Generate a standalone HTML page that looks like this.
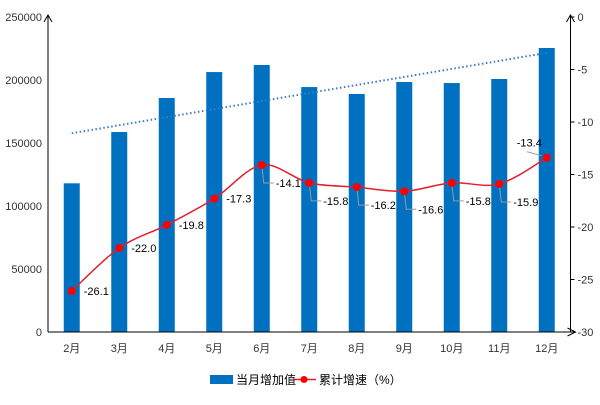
<!DOCTYPE html>
<html><head><meta charset="utf-8"><style>
body{margin:0;background:#fff;}
svg text{font-family:"Liberation Sans","Noto Sans CJK SC",sans-serif;}
</style></head><body>
<svg id="c" width="600" height="400" xmlns="http://www.w3.org/2000/svg"></svg>
<script>
const categories=["2月","3月","4月","5月","6月","7月","8月","9月","10月","11月","12月"];
const monthlyValues=[118000,158700,185700,206300,211900,194400,188900,198400,197600,200800,225400];
const growthValues=[-26.1,-22.0,-19.8,-17.3,-14.1,-15.8,-16.2,-16.6,-15.8,-15.9,-13.4];
const leftTicks=[0,50000,100000,150000,200000,250000];
const rightTicks=[0,-5,-10,-15,-20,-25,-30];
const NS="http://www.w3.org/2000/svg";
const svg=document.getElementById('c');
const X0=48,X1=570.5,Y0=332,Y1=17;
const band=(X1-X0)/categories.length;
const xc=i=>X0+band*(i+0.5);
const yL=v=>Y0-(v/250000)*(Y0-Y1);
const yR=v=>Y0-((v+30)/30)*(Y0-Y1);
function mk(t,a,p){const e=document.createElementNS(NS,t);for(const k in a)e.setAttribute(k,a[k]);(p||svg).appendChild(e);return e;}
// bars
monthlyValues.forEach((v,i)=>{const r=mk('rect',{x:xc(i)-8,y:yL(v),width:16,height:Y0-yL(v),fill:'#0070C0'});

});
// trend line (linear regression)
{const n=monthlyValues.length;let sx=0,sy=0,sxy=0,sxx=0;monthlyValues.forEach((v,i)=>{sx+=i;sy+=v;sxy+=i*v;sxx+=i*i;});
const b=(n*sxy-sx*sy)/(n*sxx-sx*sx),a=(sy-b*sx)/n;
const t=mk('line',{x1:xc(0),y1:yL(a),x2:xc(n-1),y2:yL(a+b*(n-1)),stroke:'#3A7CC4','stroke-width':2,'stroke-dasharray':'1.5 2.5'});

}
// axes
const ax=mk('g',{stroke:'#000','stroke-width':1,fill:'none'});


mk('line',{x1:X0,y1:Y0,x2:X0,y2:Y1-2},ax);
mk('polyline',{points:`${X0-4},${Y1+5} ${X0},${Y1-2} ${X0+4},${Y1+5}`},ax);
mk('line',{x1:X0,y1:Y0,x2:X1+4,y2:Y0},ax);
mk('polyline',{points:`${X1-3},${Y0-4} ${X1+5},${Y0} ${X1-3},${Y0+4}`},ax);
mk('line',{x1:X1,y1:Y0,x2:X1,y2:Y1-2},ax);
mk('polyline',{points:`${X1-4},${Y1+5} ${X1},${Y1-2} ${X1+4},${Y1+5}`},ax);
leftTicks.forEach(v=>{const t=mk('text',{x:X0-6,y:yL(v)+4,'text-anchor':'end','font-size':11,fill:'#333'});t.textContent=v;

});
rightTicks.forEach(v=>{mk('line',{x1:X1,y1:yR(v),x2:X1+4,y2:yR(v),stroke:'#000'});const t=mk('text',{x:X1+7,y:yR(v)+4,'font-size':11,fill:'#333'});t.textContent=v;

});
categories.forEach((c,i)=>{const t=mk('text',{x:xc(i),y:352,'text-anchor':'middle','font-size':11,fill:'#333'});t.textContent=c;

});
// smooth line
const pts=growthValues.map((v,i)=>[xc(i),yR(v)]);
let d=`M${pts[0][0]},${pts[0][1]}`;
for(let i=0;i<pts.length-1;i++){const p0=pts[Math.max(0,i-1)],p1=pts[i],p2=pts[i+1],p3=pts[Math.min(pts.length-1,i+2)];
d+=` C${p1[0]+(p2[0]-p0[0])/6},${p1[1]+(p2[1]-p0[1])/6} ${p2[0]-(p3[0]-p1[0])/6},${p2[1]-(p3[1]-p1[1])/6} ${p2[0]},${p2[1]}`;}
const ln=mk('path',{d:d,stroke:'#E0202A','stroke-width':1.5,fill:'none'});


growthValues.forEach((v,i)=>{const x=xc(i),y=yR(v);
let lx,ly;
if(i<4){lx=x+12;ly=y+4;}
else if(i==10){lx=x-30;ly=y-11;mk('line',{x1:x-20,y1:y-6,x2:x-5,y2:y-2,stroke:'#999'});}
else{lx=x+14;ly=y+22;mk('polyline',{points:`${x},${y} ${x+2},${y+18} ${x+12},${y+18}`,stroke:'#999',fill:'none'});}
const c=mk('circle',{cx:x,cy:y,r:4,fill:'#FF0000'});


const t=mk('text',{x:lx,y:ly,'font-size':11,fill:'#000'});t.textContent=v.toFixed(1);

});
// legend
const lg=mk('g',{});


mk('rect',{x:210,y:375,width:23,height:9,fill:'#0070C0'},lg);
const t1=mk('text',{x:236,y:384,'font-size':12,fill:'#000'},lg);t1.textContent='当月增加值';
mk('line',{x1:293,y1:379.5,x2:316,y2:379.5,stroke:'#E0202A','stroke-width':1.5},lg);
mk('circle',{cx:304,cy:379.5,r:3.5,fill:'#FF0000'},lg);
const t2=mk('text',{x:319,y:384,'font-size':12,fill:'#000'},lg);t2.textContent='累计增速（%）';
</script>
</body></html>
